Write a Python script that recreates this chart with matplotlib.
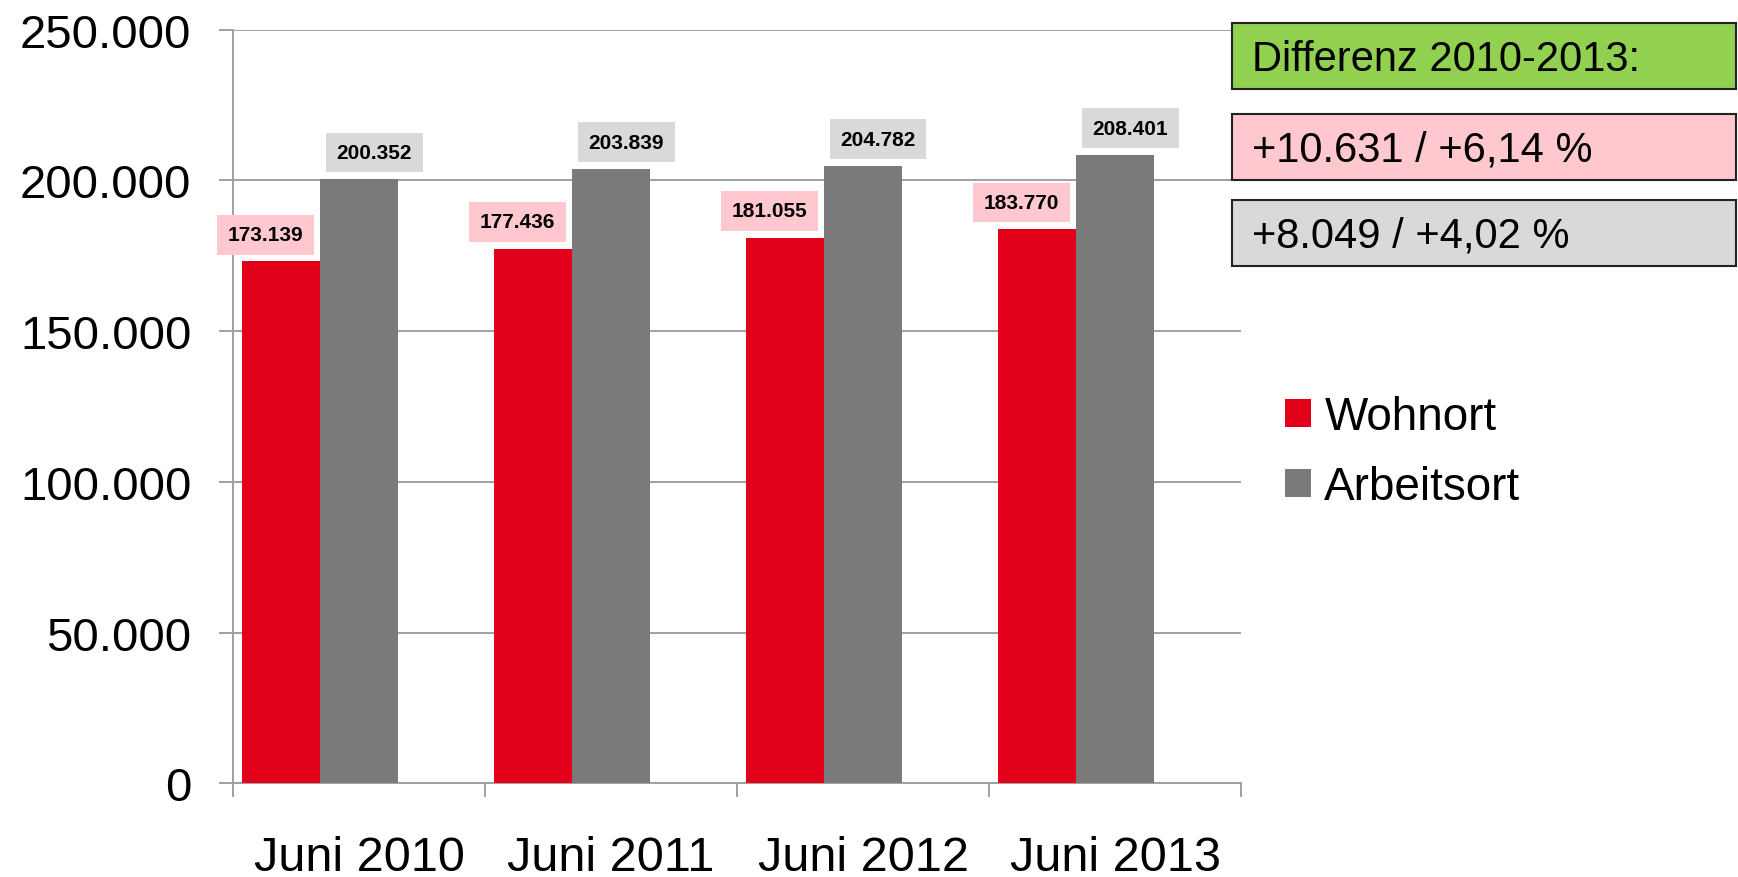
import numpy as np
import matplotlib.pyplot as plt
from matplotlib.patches import Rectangle
from matplotlib.ticker import FuncFormatter

plt.rcParams['font.family'] = ['Liberation Sans', 'DejaVu Sans']

# data
categories = ["Juni 2010", "Juni 2011", "Juni 2012", "Juni 2013"]
wohnort = [173139, 177436, 181055, 183770]
arbeitsort = [200352, 203839, 204782, 208401]
series_names = ["Wohnort", "Arbeitsort"]
diff_title = "Differenz 2010-2013:"
diff_wohnort = "+10.631 / +6,14 %"
diff_arbeitsort = "+8.049 / +4,02 %"

red = "#E2001A"
grey = "#7A7A7A"
pink = "#FFC7CE"
light_grey = "#D9D9D9"
green = "#92D050"
grid_col = "#A0A0A0"


def de_fmt(v, pos=None):
    return "{:,.0f}".format(v).replace(",", ".")


fig = plt.figure(figsize=(17.38, 8.78), dpi=100)
ax = fig.add_axes([0.1341, 0.1065, 0.5800, 0.8585])

x = np.arange(len(categories))
w = 0.311
b1 = ax.bar(x - w, wohnort, width=w, color=red, label=series_names[0], zorder=3)
b2 = ax.bar(x, arbeitsort, width=w, color=grey, label=series_names[1], zorder=3)

# value labels
for xi, v in zip(x, wohnort):
    ax.annotate(de_fmt(v), xy=(xi - w, v), xytext=(-11, 12.5), textcoords="offset points",
                ha="center", va="bottom", fontsize=15, fontweight="bold",
                bbox=dict(boxstyle="square,pad=0.5", fc=pink, ec="none"), zorder=4)
for xi, v in zip(x, arbeitsort):
    ax.annotate(de_fmt(v), xy=(xi, v), xytext=(11, 12.5), textcoords="offset points",
                ha="center", va="bottom", fontsize=15, fontweight="bold",
                bbox=dict(boxstyle="square,pad=0.5", fc=light_grey, ec="none"), zorder=4)

ax.set_xlim(-0.5, len(categories) - 0.5)
ax.set_ylim(0, 250000)
ax.set_yticks(np.arange(0, 250001, 50000))
ax.yaxis.set_major_formatter(FuncFormatter(de_fmt))
ax.set_xticks(x)
ax.set_xticklabels(categories)
ax.set_xticks(np.arange(-0.5, len(categories), 1.0), minor=True)

ax.grid(axis="y", color=grid_col, linewidth=1.4, zorder=0)
for s in ["top", "right"]:
    ax.spines[s].set_visible(False)
for s in ["left", "bottom"]:
    ax.spines[s].set_color(grid_col)
    ax.spines[s].set_linewidth(1.4)

ax.tick_params(axis="y", direction="out", length=10, width=1.4, color=grid_col,
               pad=20, labelsize=34)
ax.tick_params(axis="x", which="major", length=0, pad=37, labelsize=35)
ax.tick_params(axis="x", which="minor", direction="out", length=10, width=1.4, color=grid_col)

# legend
fig.legend(handles=[b1, b2], labels=series_names, loc="upper left",
           bbox_to_anchor=(0.7393, 0.549), frameon=False, fontsize=33,
           handlelength=0.56, handleheight=0.56, handletextpad=0.3,
           labelspacing=0.57, borderaxespad=0, borderpad=0)

# difference boxes on the right
box_x0 = 1232 / 1738
box_w = 1736 / 1738 - box_x0
box_h = 66 / 878
boxes = [(diff_title, green, 24), (diff_wohnort, pink, 115), (diff_arbeitsort, light_grey, 201)]
for txt, fc, top_px in boxes:
    y0 = 1 - (top_px + 66) / 878
    fig.patches.append(Rectangle((box_x0, y0), box_w, box_h, transform=fig.transFigure,
                                 facecolor=fc, edgecolor="#222222", linewidth=1.5))
    fig.text(1252 / 1738, y0 + box_h / 2 - 0.003, txt, fontsize=30, ha="left", va="center")

fig.savefig("out.png", dpi=100)
